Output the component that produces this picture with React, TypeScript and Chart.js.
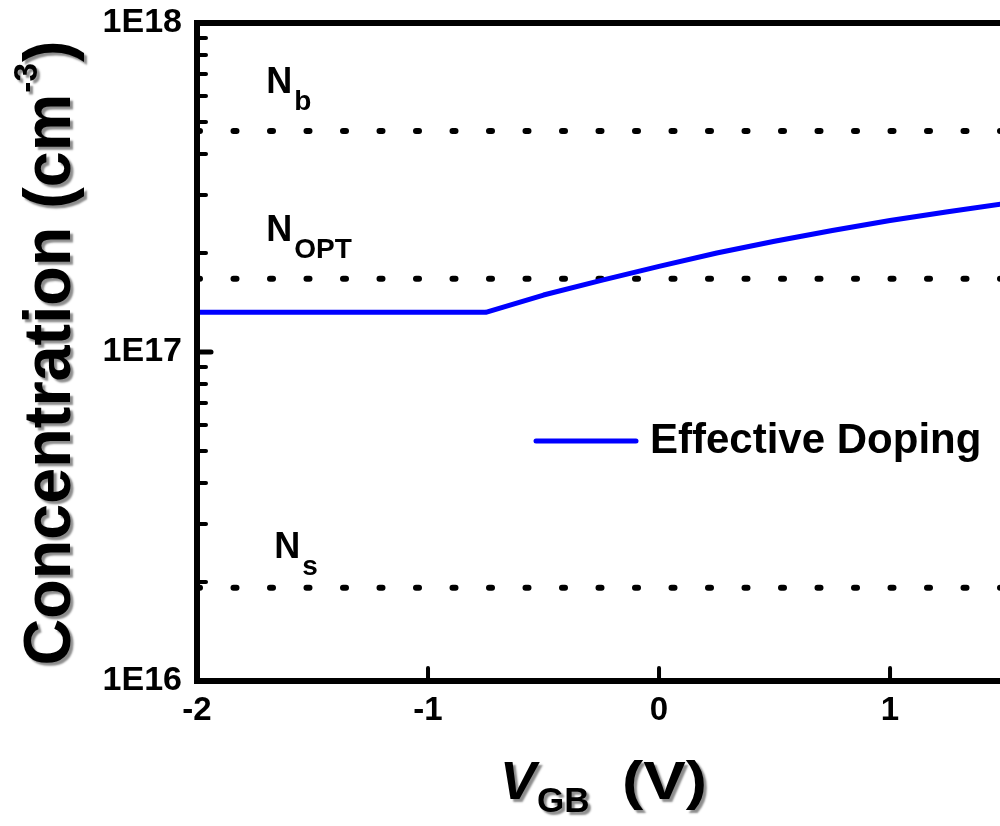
import React, { useEffect, useRef } from 'react';
import { Chart, registerables } from 'chart.js';

Chart.register(...registerables);

// ---- data ----
const vgb = [-2, -0.75, -0.5, -0.25, 0, 0.25, 0.5, 0.75, 1.0, 1.25, 1.5];
const effectiveDoping = [1.32e17, 1.32e17, 1.49e17, 1.65e17, 1.82e17, 2.0e17, 2.17e17, 2.34e17, 2.51e17, 2.67e17, 2.83e17];
const refSubscripts = ['b', 'OPT', 's'];
const refValues = [4.7e17, 1.67e17, 1.92e16];
const xTickValues = [-2, -1, 0, 1];
const yDecades = [1e16, 1e17, 1e18];
const xMin = -2;
const xMax = 1.476;
const legendLabel = 'Effective Doping';

const FONT = '"Liberation Sans", Arial, Helvetica, sans-serif';

const decoPlugin = {
  id: 'deco',
  afterDraw(chart: any) {
    const { ctx, chartArea: ca, scales } = chart;
    const xs = scales.x;
    const ys = scales.y;
    ctx.save();

    // axes frame
    ctx.strokeStyle = '#000';
    ctx.lineWidth = 6;
    ctx.lineJoin = 'miter';
    ctx.lineCap = 'butt';
    ctx.beginPath();
    ctx.moveTo(ca.right + 10, ca.top);
    ctx.lineTo(ca.left, ca.top);
    ctx.lineTo(ca.left, ca.bottom);
    ctx.lineTo(ca.right + 10, ca.bottom);
    ctx.stroke();

    // y ticks (inward)
    ctx.lineCap = 'round';
    for (const d of yDecades) {
      const py = ys.getPixelForValue(d);
      if (d > yDecades[0] && d < yDecades[yDecades.length - 1]) {
        ctx.lineWidth = 5;
        ctx.beginPath();
        ctx.moveTo(ca.left, py);
        ctx.lineTo(ca.left + 14, py);
        ctx.stroke();
      }
      for (let m = 2; m <= 9; m++) {
        const v = m * d;
        if (v >= yDecades[yDecades.length - 1]) continue;
        const p = ys.getPixelForValue(v);
        ctx.lineWidth = 4;
        ctx.beginPath();
        ctx.moveTo(ca.left, p);
        ctx.lineTo(ca.left + 9, p);
        ctx.stroke();
      }
    }
    // x ticks (inward)
    for (const v of xTickValues) {
      if (v === xMin) continue;
      const px = xs.getPixelForValue(v);
      ctx.lineWidth = 4;
      ctx.beginPath();
      ctx.moveTo(px, ca.bottom);
      ctx.lineTo(px, ca.bottom - 13);
      ctx.stroke();
    }

    // reference level labels N_b, N_OPT, N_s
    const lift = [38, 38, 30];
    const dx = [0, 0, 8];
    ctx.fillStyle = '#000';
    ctx.textBaseline = 'alphabetic';
    ctx.textAlign = 'left';
    refSubscripts.forEach((s, i) => {
      const x0 = xs.getPixelForValue(-1.7) + dx[i];
      const y0 = ys.getPixelForValue(refValues[i]) - lift[i];
      ctx.font = `bold 36px ${FONT}`;
      ctx.fillText('N', x0, y0);
      const w = ctx.measureText('N').width;
      ctx.font = `bold 28px ${FONT}`;
      ctx.fillText(s, x0 + w + 2, y0 + 17);
    });

    // legend
    const ds = chart.data.datasets[0];
    const ly = 441;
    ctx.strokeStyle = ds.borderColor;
    ctx.lineWidth = 5;
    ctx.lineCap = 'round';
    ctx.beginPath();
    ctx.moveTo(536, ly);
    ctx.lineTo(636, ly);
    ctx.stroke();
    ctx.fillStyle = '#000';
    ctx.font = `bold 42px ${FONT}`;
    ctx.fillText(legendLabel, 650, 453);

    // axis titles with drop shadow
    ctx.shadowColor = 'rgba(0,0,0,0.45)';
    ctx.shadowOffsetX = 3;
    ctx.shadowOffsetY = 3;
    ctx.shadowBlur = 2;

    // y title (rotated)
    {
      const main1 = 'Concentration (cm';
      const sup = '-3';
      const main2 = ')';
      ctx.save();
      ctx.font = `bold 66px ${FONT}`;
      const w1 = ctx.measureText(main1).width;
      const w3 = ctx.measureText(main2).width;
      ctx.font = `bold 34px ${FONT}`;
      const w2 = ctx.measureText(sup).width;
      const total = w1 + w2 + w3 + 2;
      const target = 625;
      const cy = (ca.top + ca.bottom) / 2 + 1;
      ctx.translate(70, cy);
      ctx.rotate(-Math.PI / 2);
      const sc = target / total;
      ctx.scale(sc, 1);
      let x = -total / 2;
      ctx.font = `bold 66px ${FONT}`;
      ctx.fillText(main1, x, 0);
      x += w1 + 1;
      ctx.font = `bold 34px ${FONT}`;
      ctx.fillText(sup, x, -33);
      x += w2 + 1;
      ctx.font = `bold 66px ${FONT}`;
      ctx.fillText(main2, x, 0);
      ctx.restore();
    }

    // x title
    {
      const by = 799;
      let x = 500;
      ctx.font = `italic bold 54px ${FONT}`;
      const wV = ctx.measureText('V').width;
      ctx.fillText('V', x, by);
      x += wV + 1;
      ctx.font = `bold 35px ${FONT}`;
      ctx.fillText('GB', x, by + 13);
      const xU = 622;
      ctx.font = `bold 54px ${FONT}`;
      const wU = ctx.measureText('(V)').width;
      ctx.save();
      ctx.translate(xU, by);
      ctx.scale(85 / wU, 1);
      ctx.fillText('(V)', 0, 0);
      ctx.restore();
    }

    ctx.restore();
  },
};

export default function App() {
  const ref = useRef<HTMLCanvasElement | null>(null);

  useEffect(() => {
    if (!ref.current) return;
    const lineData = vgb.map((x, i) => ({ x, y: effectiveDoping[i] }));
    const refSets = refValues.map((v, i) => ({
      label: 'N' + refSubscripts[i],
      data: [
        { x: xMin, y: v },
        { x: 1.6, y: v },
      ],
      borderColor: '#000',
      borderWidth: 6,
      borderDash: [3, 33.5],
      borderCapStyle: 'round',
      pointRadius: 0,
      tension: 0,
      showLine: true,
    }));
    const chart = new Chart(ref.current, {
      type: 'scatter',
      data: {
        datasets: [
          {
            label: legendLabel,
            data: lineData,
            borderColor: '#0000ff',
            backgroundColor: '#0000ff',
            borderWidth: 5,
            pointRadius: 0,
            showLine: true,
            tension: 0,
            borderJoinStyle: 'round',
          },
          ...refSets,
        ] as any,
      },
      options: {
        responsive: false,
        animation: false,
        layout: { padding: { top: 23, right: 0, left: 0, bottom: 0 } },
        plugins: {
          legend: { display: false },
          tooltip: { enabled: false },
          title: { display: false },
        },
        scales: {
          x: {
            type: 'linear',
            min: xMin,
            max: xMax,
            afterBuildTicks: (s: any) => {
              s.ticks = xTickValues.map((v) => ({ value: v }));
            },
            afterFit: (s: any) => {
              s.height = 145;
              s.paddingLeft = 0;
              s.paddingRight = 0;
            },
            grid: { display: false, drawTicks: false },
            border: { display: false },
            ticks: {
              color: '#000',
              padding: 10,
              autoSkip: false,
              maxRotation: 0,
              font: { family: FONT, size: 33, weight: 'bold' },
              callback: (v: any) => String(v),
            },
          },
          y: {
            type: 'logarithmic',
            min: yDecades[0],
            max: yDecades[yDecades.length - 1],
            afterBuildTicks: (s: any) => {
              s.ticks = yDecades.map((v) => ({ value: v }));
            },
            afterFit: (s: any) => {
              s.width = 197;
              s.paddingTop = 0;
              s.paddingBottom = 0;
            },
            grid: { display: false, drawTicks: false },
            border: { display: false },
            ticks: {
              color: '#000',
              padding: 15,
              autoSkip: false,
              font: { family: FONT, size: 34, weight: 'bold' },
              callback: (v: any) => '1E' + Math.round(Math.log10(Number(v))),
            },
          },
        },
      } as any,
      plugins: [decoPlugin],
    });
    return () => chart.destroy();
  }, []);

  return (
    <div style={{ position: 'absolute', left: 0, top: 0, width: 1000, height: 826, background: '#fff' }}>
      <canvas ref={ref} width={1000} height={826} style={{ display: 'block' }} />
    </div>
  );
}
